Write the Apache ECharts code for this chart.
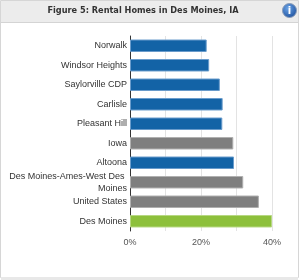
<!DOCTYPE html>
<html><head><meta charset="utf-8">
<script src="https://cdn.jsdelivr.net/npm/echarts@6/dist/echarts.min.js"></script>
<style>html,body{margin:0;padding:0;background:#fff}#c{width:300px;height:280px}</style>
</head><body><div id="c"></div>
<script>
var categories = ["Norwalk","Windsor Heights","Saylorville CDP","Carlisle","Pleasant Hill","Iowa","Altoona","Des Moines-Ames-West Des Moines","United States","Des Moines"];
var values = [21.6, 22.3, 25.3, 26.1, 26.0, 29.1, 29.3, 31.9, 36.3, 40.0];
var barKinds = ["place","place","place","place","place","ref","place","ref","ref","focus"];
var tickLabels = ["0%","20%","40%"];
var titleText = "Figure 5: Rental Homes in Des Moines, IA";
var kindColor = {place:"#1363a6", ref:"#7f7f7f", focus:"#8dc03c"};
var kindBorder = {place:"#6a9ccc", ref:"#b0b0b0", focus:"#b7d882"};

var chart = echarts.init(document.getElementById('c'), null, {renderer:'canvas'});
chart.setOption({
  animation:false,
  grid:{left:130, right:28, top:36, bottom:49, containLabel:false},
  xAxis:{type:'value', min:0, max:40, interval:10,
    axisLine:{show:false}, axisTick:{show:false},
    splitLine:{lineStyle:{color:'#e3e3e3', width:1}},
    axisLabel:{color:'#555', fontFamily:'Liberation Sans, Arial', fontSize:9, margin:7,
      formatter:function(v){ var i = tickLabels.indexOf(v+'%'); return i>=0 ? tickLabels[i] : ''; }}
  },
  yAxis:{type:'category', data:categories, inverse:true,
    axisLine:{lineStyle:{color:'#333', width:1}}, axisTick:{show:false},
    axisLabel:{color:'#333', fontFamily:'Liberation Sans, Arial', fontSize:9, margin:3, lineHeight:12,
      width:120, overflow:'break'}
  },
  series:[{type:'bar', barWidth:'64%',
    data: values.map(function(v,i){return {value:v, itemStyle:{color:kindColor[barKinds[i]], borderColor:kindBorder[barKinds[i]], borderWidth:1}};})
  }],
  graphic:[
    {type:'rect', shape:{x:0.5,y:0.5,width:298,height:277}, style:{fill:'none', stroke:'#d6d6d6', lineWidth:1}, z:-10},
    {type:'rect', shape:{x:1,y:1,width:297,height:21}, style:{fill:'#ececec', stroke:null}, z:-5},
    {type:'line', shape:{x1:1,y1:22.5,x2:298,y2:22.5}, style:{stroke:'#d4d4d4', lineWidth:1}},
    {type:'rect', shape:{x:1,y:277,width:297,height:3}, style:{fill:'#e8e8e8'}},
    {type:'text', x:143, y:11, style:{text:titleText, fill:'#333', font:'bold 8.2px "DejaVu Sans", Verdana', textAlign:'center', textVerticalAlign:'middle'}},
    {type:'circle', shape:{cx:289.5, cy:10.5, r:7}, style:{fill:{type:'radial',x:0.4,y:0.35,r:0.7,colorStops:[{offset:0,color:'#6aa3e6'},{offset:1,color:'#1c4f9c'}]}, stroke:'#8a9cb8', lineWidth:1}},
    {type:'text', x:289.5, y:11, style:{text:'i', fill:'#fff', font:'bold 10px "DejaVu Sans"', textAlign:'center', textVerticalAlign:'middle'}}
  ]
});
</script></body></html>
